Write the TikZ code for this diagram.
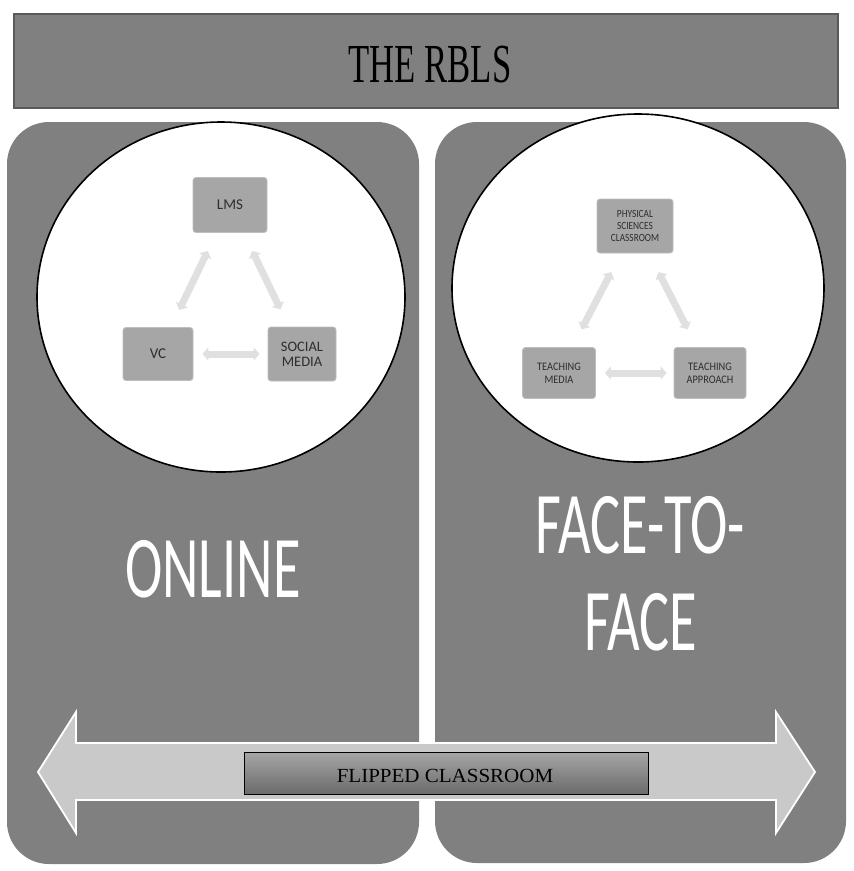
\documentclass[tikz,border=0pt]{standalone}
\usepackage{fontspec}
\usepackage{graphicx}
\setmainfont{Liberation Serif}
\newfontfamily\calfont{Carlito}
\usetikzlibrary{arrows.meta}
\definecolor{panelgray}{HTML}{808080}
\definecolor{titleborder}{HTML}{5A5A5A}
\definecolor{boxfill}{HTML}{A6A6A6}
\definecolor{boxline}{HTML}{BDBDBD}
\definecolor{boxtext}{HTML}{2E2E2E}
\definecolor{arrowgray}{HTML}{E0E0E0}
\definecolor{bigarrow}{HTML}{C9C9C9}
\tikzset{
  panel/.style={fill=panelgray, draw=none, rounded corners=42pt},
  innerbox/.style={draw=boxline, fill=boxfill, rounded corners=3pt, line width=0.8pt,
    minimum width=#1, inner sep=1pt, align=center, text=boxtext},
  circ/.style={draw=black, line width=1.6pt, fill=white},
  garrow/.style={draw=arrowgray, line width=7pt,
    arrows={Triangle[length=6pt,width=13pt]-Triangle[length=6pt,width=13pt]}},
  bigtext/.style={text=white, font=\calfont\fontsize{88}{97}\selectfont, inner sep=0pt, anchor=base}
}
\begin{document}
\begin{tikzpicture}[x=1pt,y=-1pt]
\useasboundingbox (0,0) rectangle (854,871);
\fill[white] (0,0) rectangle (854,871);
% title bar
\node[draw=titleborder, fill=panelgray, line width=1.5pt, minimum width=824pt, minimum height=94pt, inner sep=0pt] (title) at (426,61) {};
\node[inner sep=0pt, anchor=base, font=\fontsize{55}{60}\selectfont] (titletext) at (430,82) {\scalebox{0.63}[1]{THE RBLS}};
% panels
\fill[panel] (7,122) rectangle (419,864);
\fill[panel] (435,122) rectangle (846,863);
% left circle
\draw[circ] (221,297) ellipse [x radius=184, y radius=175];
\node[innerbox=74pt, minimum height=55pt, font=\calfont\fontsize{15}{16}\selectfont] (lms) at (230,205) {LMS};
\node[innerbox=70pt, minimum height=53pt, font=\calfont\fontsize{15}{16}\selectfont] (vc) at (158,354) {VC};
\node[innerbox=68pt, minimum height=54pt, font=\calfont\fontsize{14.5}{15}\selectfont] (sm) at (302,354) {SOCIAL\\MEDIA};
\draw[garrow, shorten <=20pt, shorten >=19pt] (lms) -- (vc);
\draw[garrow, shorten <=20pt, shorten >=19pt] (lms) -- (sm);
\draw[garrow, shorten <=9pt, shorten >=8pt] (vc) -- (sm);
% right circle
\draw[circ] (638,288) ellipse [x radius=186, y radius=174];
\node[innerbox=76pt, minimum height=54pt, font=\calfont\fontsize{11}{12}\selectfont] (psc) at (635,226) {\scalebox{0.85}[1]{PHYSICAL}\\\scalebox{0.85}[1]{SCIENCES}\\\scalebox{0.85}[1]{CLASSROOM}};
\node[innerbox=73pt, minimum height=51pt, font=\calfont\fontsize{11.5}{13}\selectfont] (tm) at (559,373) {\scalebox{0.9}[1]{TEACHING}\\\scalebox{0.9}[1]{MEDIA}};
\node[innerbox=72pt, minimum height=51pt, font=\calfont\fontsize{11.5}{13}\selectfont] (ta) at (710,373) {\scalebox{0.9}[1]{TEACHING}\\\scalebox{0.9}[1]{APPROACH}};
\draw[garrow, shorten <=21pt, shorten >=20pt] (psc) -- (tm);
\draw[garrow, shorten <=21pt, shorten >=20pt] (psc) -- (ta);
\draw[garrow, shorten <=9pt, shorten >=7pt] (tm) -- (ta);
% panel labels
\node[bigtext] (online) at (213,597) {\scalebox{0.64}[1]{ONLINE}};
\node[bigtext] (ftf1) at (640,553) {\scalebox{0.64}[1]{FACE-TO-}};
\node[bigtext] (ftf2) at (641,650) {\scalebox{0.64}[1]{FACE}};
% big double arrow
\filldraw[fill=bigarrow, draw=white, line width=1.8pt, line join=miter]
  (38,772) -- (76,712) -- (76,743) -- (776,743) -- (776,712) -- (815,772)
  -- (776,833) -- (776,800) -- (76,800) -- (76,833) -- cycle;
% flipped classroom box
\node[draw=black, line width=0.8pt, top color=black!35, bottom color=black!58,
  minimum width=404pt, minimum height=42pt, inner sep=0pt] (fc) at (446,773) {};
\node[inner sep=0pt, anchor=base, font=\fontsize{20}{22}\selectfont] (fctext) at (445,782) {\scalebox{1.05}[1]{FLIPPED CLASSROOM}};
\end{tikzpicture}
\end{document}
